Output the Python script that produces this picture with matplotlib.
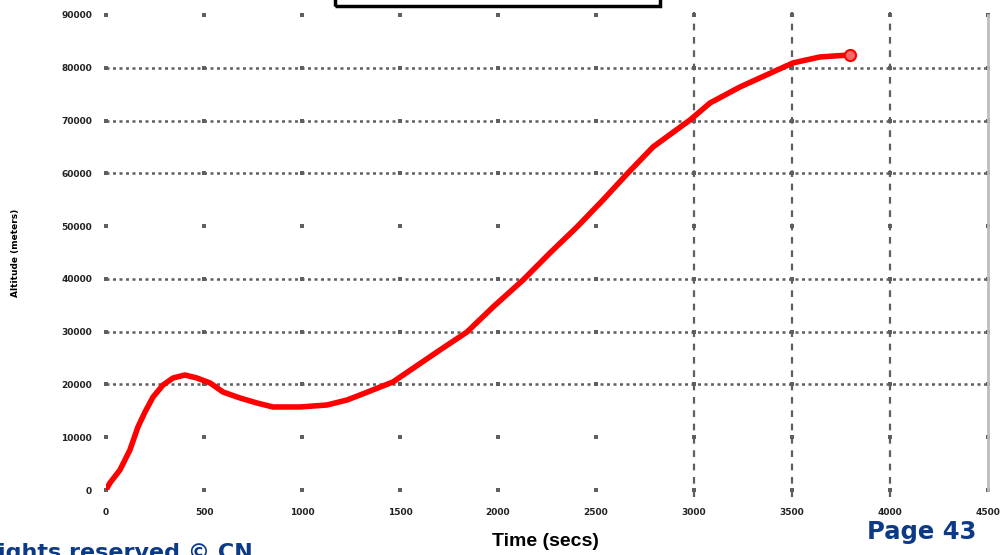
import matplotlib
matplotlib.use("Agg")
import matplotlib.pyplot as plt
from matplotlib.patches import Rectangle

# flight profile
time_s = [0, 20, 71, 122, 163, 199, 240, 291, 342, 403, 464, 531, 597, 684,
          770, 852, 990, 1128, 1230, 1296, 1464, 1704, 1842, 1975, 2128, 2265,
          2403, 2536, 2663, 2791, 2980, 3082, 3235, 3403, 3505, 3643, 3796]
altitude = [0, 1330, 3790, 7580, 11940, 14780, 17620, 19900, 21220, 21790,
            21220, 20280, 18570, 17430, 16490, 15730, 15730, 16110, 17060,
            18000, 20470, 26530, 29940, 34680, 39800, 44910, 49840, 54960,
            60070, 65000, 70120, 73340, 76370, 79210, 80920, 82050, 82430]

x_ticks = [0, 500, 1000, 1500, 2000, 2500, 3000, 3500, 4000, 4500]
y_ticks = [0, 10000, 20000, 30000, 40000, 50000, 60000, 70000, 80000, 90000]
h_grid = [20000, 30000, 40000, 60000, 70000, 80000]
v_grid = [3000, 3500, 4000]

fig = plt.figure(figsize=(10.05, 5.55), dpi=100)
ax = fig.add_axes([106 / 1005, 1 - 490 / 555, 882 / 1005, 475 / 555])
ax.set_xlim(0, 4500)
ax.set_ylim(0, 90000)

grey = "#5f5f5f"
# little marks at every grid crossing
for xv in x_ticks:
    ax.scatter([xv] * len(y_ticks), y_ticks, marker="s", s=6, color=grey,
               linewidths=0, clip_on=False, zorder=2)
for yv in h_grid:
    ax.axhline(yv, color=grey, lw=1.8, ls=(0, (1.2, 1.4)), zorder=1)
for xv in v_grid:
    ax.axvline(xv, ymin=-0.015, ymax=1.006, color=grey, lw=1.6,
               ls=(0, (3, 3)), clip_on=False, zorder=1)

ax.plot(time_s, altitude, color="red", lw=4, solid_capstyle="round",
        solid_joinstyle="round", zorder=3)
ax.plot(time_s[-1], altitude[-1], "o", ms=8, mfc="#ff6666", mec="red",
        mew=1.5, zorder=4)

ax.set_xticks(x_ticks)
ax.set_yticks(y_ticks)
ax.tick_params(length=0, labelsize=6.5, colors="#222222")
ax.tick_params(axis="y", pad=10)
ax.tick_params(axis="x", pad=13)
for lab in ax.get_xticklabels() + ax.get_yticklabels():
    lab.set_fontweight("bold")

for side in ["top", "left", "bottom"]:
    ax.spines[side].set_visible(False)
ax.spines["right"].set_color("#bdbdbd")
ax.spines["right"].set_linewidth(2)

ax.set_ylabel("Altitude (meters)", fontsize=6.5, fontweight="bold",
              labelpad=30)

# cut-off box at the top
fig.patches.append(Rectangle((335 / 1005, 1 - 6 / 555), 325 / 1005, 0.05,
                             transform=fig.transFigure, fill=False,
                             ec="black", lw=2.5))

fig.text(545 / 1005, 1 - 541 / 555, "Time (secs)", ha="center", va="center",
         fontsize=14, fontweight="bold", family="Liberation Sans")
fig.text(922 / 1005, 1 - 532 / 555, "Page 43", ha="center", va="center",
         fontsize=17.5, fontweight="bold", color="#0d3a86", family="DejaVu Sans")
fig.text(-2 / 1005, 1 - 543 / 555, "ights reserved © CN", ha="left", va="top",
         fontsize=16, fontweight="bold", color="#0d3a86", family="DejaVu Sans")

fig.savefig("out.png", dpi=100)
